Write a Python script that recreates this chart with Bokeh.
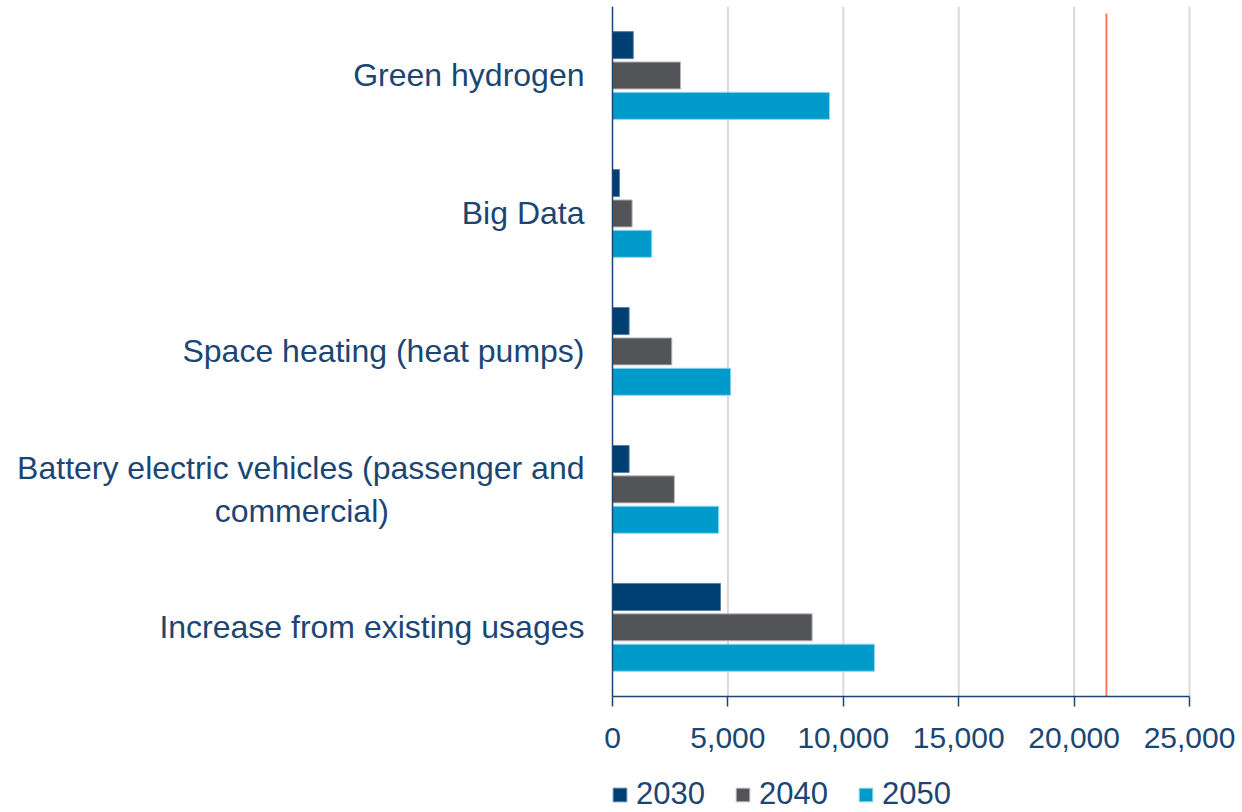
from bokeh.plotting import figure
from bokeh.models import (Range1d, Legend, LegendItem, NumeralTickFormatter,
                          FixedTicker, ColumnDataSource)
from bokeh.embed import file_html
from bokeh.resources import INLINE

# Additional electricity demand by driver (top to bottom as displayed)
categories = [
    "Green hydrogen",
    "Big Data",
    "Space heating (heat pumps)",
    "Battery electric vehicles (passenger and\ncommercial)",
    "Increase from existing usages",
]
years = ["2030", "2040", "2050"]
v2030 = [900, 300, 720, 720, 4680]
v2040 = [2950, 850, 2570, 2680, 8650]
v2050 = [9400, 1700, 5120, 4600, 11350]
x_ticks = [0, 5000, 10000, 15000, 20000, 25000]
threshold = 21400

TEXT = "#1B4674"
FONT = "Liberation Sans"
fills = {"2030": "#003F72", "2040": "#525458", "2050": "#009ACB"}
edges = {"2030": "#5A7FA6", "2040": "#B8B8BC", "2050": "#8FD6EE"}
offsets = {"2030": 0.22, "2040": 0.0, "2050": -0.22}
BAR_H = 0.196

# category bands: first category on top, one unit per band
n = len(categories)
centers = [n - 0.5 - i for i in range(n)]

# wrapped labels: pad the continuation line so it sits centred under the first
NBSP = "\u00a0"
def tick_text(label):
    if "\n" in label:
        first, second = label.split("\n")
        return first + "\n" + second + NBSP * 22
    return label

src = ColumnDataSource(dict(
    y2030=[c + offsets["2030"] for c in centers],
    y2040=[c + offsets["2040"] for c in centers],
    y2050=[c + offsets["2050"] for c in centers],
    v2030=v2030, v2040=v2040, v2050=v2050,
))

# The frame covers the whole page; both axes are pinned at 0 and bounded,
# leaving room in the frame for category labels, tick labels and legend.
p = figure(
    width=1242, height=812,
    x_range=Range1d(-26516, 27296),
    y_range=Range1d(-0.842, n),
    output_backend="svg", toolbar_location=None,
    min_border_left=0, min_border_right=0,
    min_border_top=6, min_border_bottom=0,
)
p.outline_line_color = None
p.background_fill_color = "white"
p.xgrid.visible = False
p.ygrid.visible = False

# vertical gridlines over the category area only
p.segment(x0=x_ticks[1:], x1=x_ticks[1:], y0=0, y1=n,
          line_color="#D9D9D9", line_width=2)

renderers = {}
for y in years:
    renderers[y] = p.hbar(
        y="y" + y, right="v" + y, left=0, height=BAR_H, source=src,
        fill_color=fills[y], line_color=edges[y], line_width=1,
    )

# reference level
p.segment(x0=[threshold], x1=[threshold], y0=[0], y1=[n - 0.05],
          line_color="#FF7A50", line_width=2)

# value axis
xa = p.xaxis[0]
xa.fixed_location = 0
xa.bounds = (x_ticks[0], x_ticks[-1])
xa.ticker = FixedTicker(ticks=x_ticks)
xa.formatter = NumeralTickFormatter(format="0,0")
xa.axis_line_color = TEXT
xa.axis_line_width = 1.5
xa.major_tick_line_color = TEXT
xa.major_tick_line_width = 1.5
xa.major_tick_out = 10
xa.major_tick_in = 0
xa.minor_tick_line_color = None
xa.major_label_text_font = FONT
xa.major_label_text_font_size = "30px"
xa.major_label_text_color = TEXT
xa.major_label_standoff = 22

# category axis
ya = p.yaxis[0]
ya.fixed_location = 0
ya.bounds = (0, n)
ya.ticker = FixedTicker(ticks=centers)
ya.major_label_overrides = {c: tick_text(lab) for c, lab in zip(centers, categories)}
ya.axis_line_color = TEXT
ya.axis_line_width = 1.5
ya.major_tick_line_color = None
ya.minor_tick_line_color = None
ya.major_tick_out = 0
ya.major_tick_in = 0
ya.major_label_text_font = FONT
ya.major_label_text_font_size = "32px"
ya.major_label_text_color = TEXT
ya.major_label_standoff = 28

legend = Legend(
    items=[LegendItem(label=y, renderers=[renderers[y]]) for y in years],
    orientation="horizontal", location=(611, 0),
    glyph_width=17, glyph_height=17, label_standoff=8, spacing=29,
    padding=0, margin=0, border_line_color=None, background_fill_alpha=0,
    label_text_font=FONT, label_text_font_size="31px", label_text_color=TEXT,
)
p.add_layout(legend)

open("out.html", "w").write(file_html(p, INLINE))
